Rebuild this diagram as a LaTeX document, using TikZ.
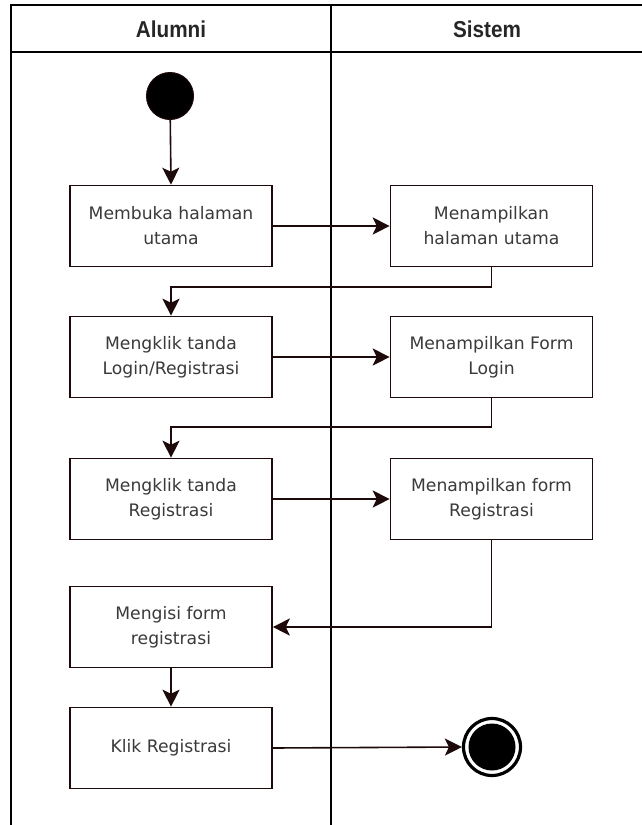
\documentclass[tikz,border=0pt]{standalone}
\usepackage{fontspec}
\setmainfont{DejaVu Sans}
\newfontfamily\headfont[FakeStretch=0.9]{Liberation Sans}
\usetikzlibrary{arrows.meta,calc}
\definecolor{edgecol}{HTML}{1E0A0A}
\definecolor{textcol}{HTML}{3A3A3A}
\tikzset{
  lane/.style={line width=1.6pt,black},
  actbox/.style={draw=edgecol,line width=1.6pt,fill=white,rectangle,
    minimum width=202pt,minimum height=81pt,align=center,
    text=textcol,font=\fontsize{17.2}{25}\selectfont,inner sep=0pt},
  flow/.style={draw=edgecol,line width=1.6pt,
    -{Stealth[length=17pt,width=17pt,inset=4pt]}},
  headtext/.style={font=\headfont\bfseries\fontsize{23}{26}\selectfont,text=black!85}
}
\begin{document}
\begin{tikzpicture}[x=1pt,y=-1pt]
\useasboundingbox (0,0) rectangle (642,825);
\fill[white] (0,0) rectangle (642,825);

% swimlane frame
\draw[lane] (11,825) -- (11,5) -- (642,5);
\draw[lane] (11,52) -- (642,52);
\draw[lane] (331,5) -- (331,825);
\node[headtext] (hA) at (171,29) {Alumni};
\node[headtext] (hS) at (487,29) {Sistem};

% start and end states
\node[circle,fill=black,draw=edgecol,line width=1pt,minimum size=47pt,inner sep=0pt] (start) at (170,96) {};
\node[circle,draw=black,line width=3.2pt,fill=white,minimum size=57pt,inner sep=0pt] (finish) at (492,747) {};
\fill[black] (finish.center) circle (23.5);

% activities
\node[actbox] (b1) at (171,226) {Membuka halaman\\utama};
\node[actbox] (b2) at (491.5,226) {Menampilkan\\halaman utama};
\node[actbox] (b3) at (171,357) {Mengklik tanda\\Login/Registrasi};
\node[actbox] (b4) at (491.5,357) {Menampilkan Form\\Login};
\node[actbox] (b5) at (171,499) {Mengklik tanda\\Registrasi};
\node[actbox] (b6) at (491.5,499) {Menampilkan form\\Registrasi};
\node[actbox] (b7) at (171,627) {Mengisi form\\registrasi};
\node[actbox] (b8) at (171,748) {Klik Registrasi};

% bend levels of the return connectors
\coordinate (k1) at (0,287);
\coordinate (k2) at (0,427);

% connectors
\draw[flow] (start) -- (b1.north);
\draw[flow] (b1.east) -- (b2.west);
\draw[flow] (b2.south) -- (b2.south |- k1) -- (b3.north |- k1) -- (b3.north);
\draw[flow] (b3.east) -- (b4.west);
\draw[flow] (b4.south) -- (b4.south |- k2) -- (b5.north |- k2) -- (b5.north);
\draw[flow] (b5.east) -- (b6.west);
\draw[flow] (b6.south) |- (b7.east);
\draw[flow] (b7.south) -- (b8.north);
\draw[flow] (b8.east) -- (finish.west);
\end{tikzpicture}
\end{document}
